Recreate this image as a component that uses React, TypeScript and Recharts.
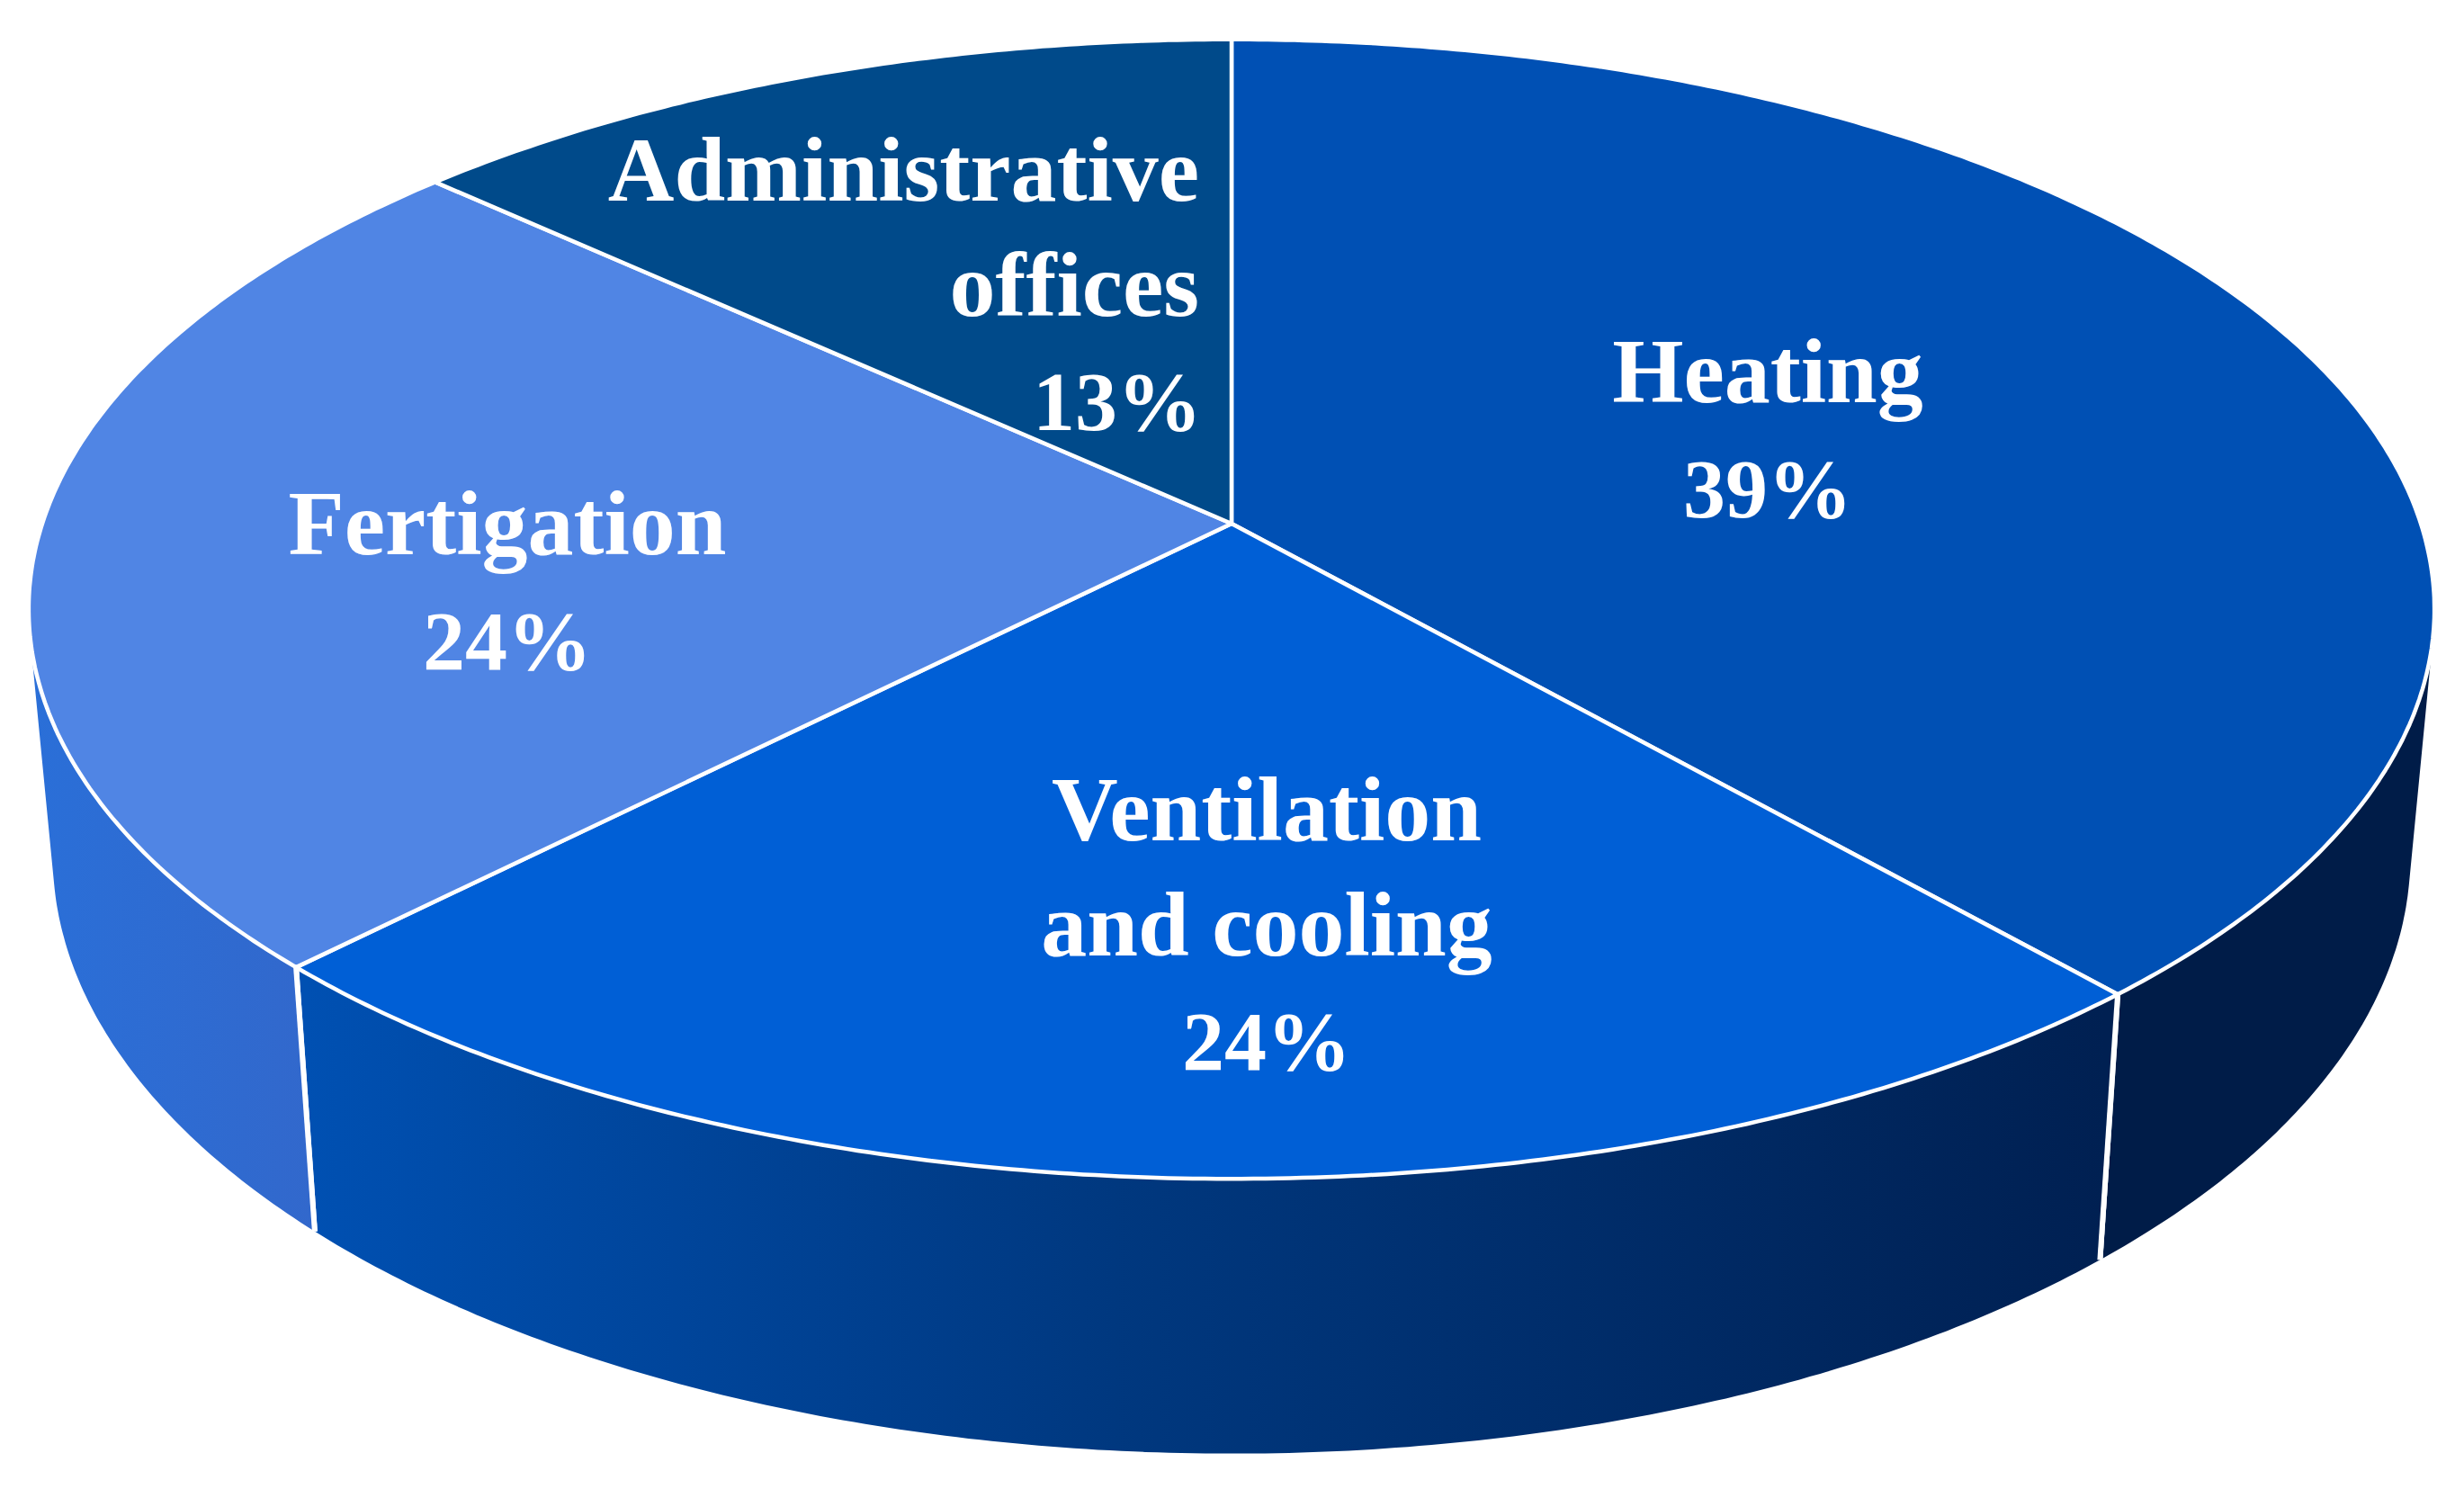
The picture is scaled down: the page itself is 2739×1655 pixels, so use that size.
import React from "react";
import { PieChart, Pie } from "recharts";

const categories = ["Heating", "Ventilation and cooling", "Fertigation", "Administrative offices"];
const sliceValues = [38.5, 23.9, 24.4, 13.2];
const percentLabels = ["39%", "24%", "24%", "13%"];
const labelLines = [["Heating"], ["Ventilation", "and cooling"], ["Fertigation"], ["Administrative", "offices"]];

const topColors = ["#0050b4", "#005fd6", "#5085e4", "#004a8a"];
const wallStops = [
  [["0%", "#001c48"], ["100%", "#001c48"]],
  [["0%", "#0050b2"], ["45%", "#00387f"], ["100%", "#002052"]],
  [["0%", "#2a6fd8"], ["100%", "#3268cc"]],
  [["0%", "#003a70"], ["100%", "#003a70"]],
];
const wallRanges = [[2300, 2700], [340, 2340], [30, 350], [480, 1368]];
const labelLayouts = [
  { x: 1965, y: 447, anchor: "middle" },
  { x: 1408, y: 934, anchor: "middle" },
  { x: 564, y: 616, anchor: "middle" },
  { x: 1333, y: 223, anchor: "end" },
];

const W = 2739;
const H = 1655;
const CX = 1369;
const CY = 582;
const R = 619;
const SPREAD_X = 1322;
const SPREAD_Y = 619;
const PERSP = -0.15;
const BOTTOM_SX = 0.98;
const BOTTOM_SY = 1.05;
const DEPTH = 269;
const STEP = 0.5;
const FONT = "'Liberation Serif', serif";
const FONT_SIZE = 102;
const PERCENT_SIZE = 94;
const LINE_H = 127.5;

const tableData = categories.map((name, i) => ({ name, value: sliceValues[i] }));

type P = { x: number; y: number };
const toRad = (d: number) => (d * Math.PI) / 180;
const top = (deg: number, r = 1): P => {
  const u = r * Math.cos(toRad(deg));
  const v = -r * Math.sin(toRad(deg));
  const w = 1 + PERSP * v;
  return { x: CX + (SPREAD_X * u) / w, y: CY + (SPREAD_Y * v) / w };
};
const bottom = (deg: number): P => {
  const u = Math.cos(toRad(deg));
  const v = -Math.sin(toRad(deg));
  const w = 1 + PERSP * v;
  return { x: CX + (BOTTOM_SX * SPREAD_X * u) / w, y: CY + DEPTH + (BOTTOM_SY * SPREAD_Y * v) / w };
};
const facing = (deg: number) => {
  const a = top(deg);
  const b = top(deg - 0.25);
  const c = bottom(deg);
  return (b.x - a.x) * (c.y - a.y) - (b.y - a.y) * (c.x - a.x) < 0;
};
const sweep = (startAngle: number, endAngle: number) => {
  const list: number[] = [];
  for (let a = startAngle; a > endAngle; a -= STEP) list.push(a);
  list.push(endAngle);
  return list;
};
const pts = (list: P[]) => list.map((p) => `${p.x.toFixed(1)},${p.y.toFixed(1)}`).join(" L");

const TopSlice = (props: any) => {
  const i = categories.indexOf(props.name);
  const arc = sweep(props.startAngle, props.endAngle).map((a) => top(a));
  return (
    <path
      d={`M${CX},${CY} L${pts(arc)} Z`}
      fill={topColors[i]}
      stroke="#ffffff"
      strokeWidth={4.5}
      strokeLinejoin="round"
    />
  );
};

const WallSlice = (props: any) => {
  const i = categories.indexOf(props.name);
  const angles = sweep(props.startAngle, props.endAngle).filter(facing);
  if (angles.length < 2) return <g />;
  const first = angles[0];
  const last = angles[angles.length - 1];
  const edge = (a: number) => {
    const t = top(a);
    const b = bottom(a);
    return <line x1={t.x} y1={t.y} x2={b.x} y2={b.y} stroke="#ffffff" strokeWidth={6} />;
  };
  return (
    <g>
      <path
        d={`M${pts(angles.map((a) => top(a)))} L${pts(angles.slice().reverse().map((a) => bottom(a)))} Z`}
        fill={`url(#wall-${i})`}
      />
      {first === props.startAngle ? edge(first) : null}
      {last === props.endAngle ? edge(last) : null}
    </g>
  );
};

const SliceLabel = (props: any) => {
  const i = categories.indexOf(props.name);
  const spot = labelLayouts[i];
  const lines = [...labelLines[i]];
  return (
    <text
      x={spot.x}
      y={spot.y}
      textAnchor={spot.anchor as any}
      fill="#ffffff"
      fontFamily={FONT}
      fontWeight={700}
      fontSize={FONT_SIZE}
    >
      {lines.map((line, k) => (
        <tspan key={line + k} x={spot.x} dy={k === 0 ? 0 : LINE_H}>
          {line}
        </tspan>
      ))}
      <tspan
        x={spot.anchor === "end" ? spot.x + 3 : spot.x}
        dy={LINE_H}
        fontSize={PERCENT_SIZE}
      >
        {percentLabels[i]}
      </tspan>
    </text>
  );
};

export default function App() {
  return (
    <div style={{ position: "absolute", left: 0, top: 0, width: W, height: H, background: "#ffffff" }}>
      <PieChart width={W} height={H} margin={{ top: 0, right: 0, bottom: 0, left: 0 }}>
        <defs>
          {wallStops.map((stops, i) => (
            <linearGradient
              key={i}
              id={`wall-${i}`}
              gradientUnits="userSpaceOnUse"
              x1={wallRanges[i][0]}
              y1={0}
              x2={wallRanges[i][1]}
              y2={0}
            >
              {stops.map(([offset, color]) => (
                <stop key={offset} offset={offset} stopColor={color} />
              ))}
            </linearGradient>
          ))}
        </defs>
        <Pie
          data={tableData}
          dataKey="value"
          nameKey="name"
          cx={CX}
          cy={CY}
          outerRadius={R}
          startAngle={90}
          endAngle={-270}
          stroke="none"
          isAnimationActive={false}
          shape={WallSlice}
        />
        <Pie
          data={tableData}
          dataKey="value"
          nameKey="name"
          cx={CX}
          cy={CY}
          outerRadius={R}
          startAngle={90}
          endAngle={-270}
          isAnimationActive={false}
          shape={TopSlice}
          label={SliceLabel}
          labelLine={false}
        />
      </PieChart>
    </div>
  );
}
